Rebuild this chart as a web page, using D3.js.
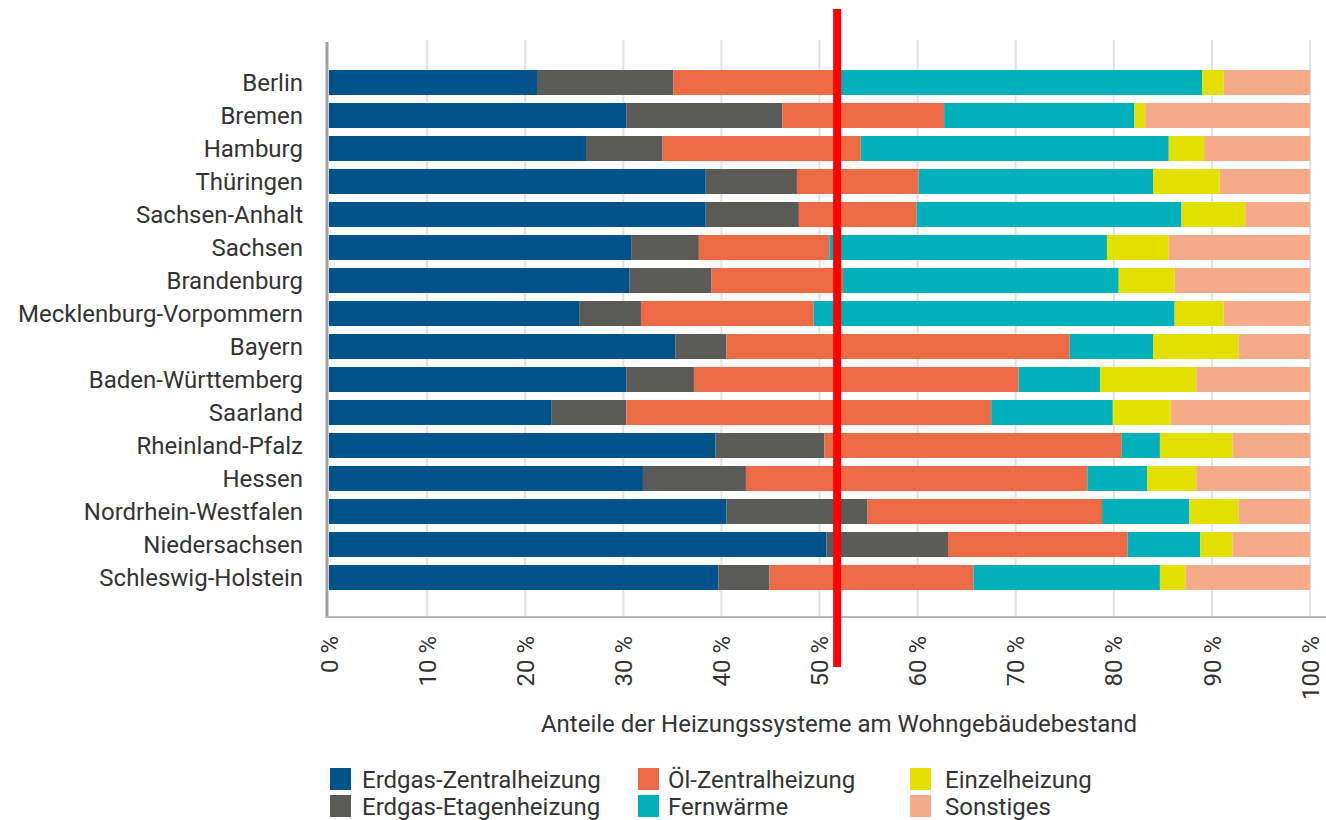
<!DOCTYPE html>
<html>
<head>
<meta charset="utf-8">
<script src="https://cdn.jsdelivr.net/npm/d3@7"></script>
<style>
	html, body { margin: 0; padding: 0; background: #fff; }
	svg { display: block; font-family: Roboto, 'Noto Sans', sans-serif; }
</style>
</head>
<body>
<svg id="chart" width="1326" height="820"></svg>
<script>
// Bundeslaender (von oben nach unten)
const laender = ['Berlin', 'Bremen', 'Hamburg', 'Thüringen', 'Sachsen-Anhalt', 'Sachsen', 'Brandenburg',
	'Mecklenburg-Vorpommern', 'Bayern', 'Baden-Württemberg', 'Saarland', 'Rheinland-Pfalz', 'Hessen',
	'Nordrhein-Westfalen', 'Niedersachsen', 'Schleswig-Holstein'];

// Anteile in %
const erdgasZentral = [21.2, 30.3, 26.2, 38.4, 38.4, 30.8, 30.6, 25.5, 35.3, 30.3, 22.7, 39.4, 32.0, 40.5, 50.7, 39.7];
const erdgasEtage   = [13.9, 15.9,  7.8,  9.3,  9.5,  6.9,  8.4,  6.3,  5.2,  6.9,  7.6, 11.1, 10.5, 14.4, 12.4,  5.2];
const oelZentral    = [16.9, 16.5, 20.2, 12.4, 12.0, 13.3, 13.4, 17.6, 35.0, 33.1, 37.2, 30.3, 34.8, 23.9, 18.3, 20.8];
const fernwaerme    = [37.0, 19.4, 31.4, 23.9, 27.0, 28.3, 28.1, 36.8,  8.5,  8.3, 12.4,  3.9,  6.1,  8.9,  7.4, 19.0];
const einzel        = [ 2.2,  1.1,  3.6,  6.8,  6.5,  6.3,  5.7,  5.0,  8.7,  9.8,  5.9,  7.4,  5.0,  5.0,  3.3,  2.6];
const sonstiges     = [ 8.8, 16.8, 10.8,  9.2,  6.6, 14.4, 13.8,  8.8,  7.3, 11.6, 14.2,  7.9, 11.6,  7.3,  7.9, 12.7];

const serienNamen = ['Erdgas-Zentralheizung', 'Erdgas-Etagenheizung', 'Öl-Zentralheizung', 'Fernwärme', 'Einzelheizung', 'Sonstiges'];
const serienWerte = [erdgasZentral, erdgasEtage, oelZentral, fernwaerme, einzel, sonstiges];
const farben = ['#00528a', '#5a5a57', '#ec6b45', '#00b1bc', '#e3df00', '#f5aa8a'];

const xTicks = [0, 10, 20, 30, 40, 50, 60, 70, 80, 90, 100];
const xTitel = 'Anteile der Heizungssysteme am Wohngebäudebestand';
const markierung = [51.8];	// rote Linie

const svg = d3.select('#chart');
const fs = '24px';	// Schriftgroesse

const x = d3.scaleLinear().domain([0, 100]).range([329, 1310]);
const y = d3.scaleBand().domain(laender).range([62, 598]).padding(0.2424);

// Tabelle fuer d3.stack
const tabelle = laender.map(function(l, i) {
	const row = { land: l };
	serienNamen.forEach(function(s, j) { row[s] = serienWerte[j][i]; });
	return row;
});
const stack = d3.stack().keys(serienNamen)(tabelle);

// Gitterlinien
svg.append('g')
	.selectAll('line')
	.data(xTicks.slice(1))
	.join('line')
	.attr('x1', d => x(d))
	.attr('x2', d => x(d))
	.attr('y1', 40)
	.attr('y2', 617)
	.style('stroke', '#e2e2e2')
	.style('stroke-width', 2);

// Balken
svg.append('g')
	.selectAll('g')
	.data(stack)
	.join('g')
	.style('fill', (d, i) => farben[i])
	.selectAll('rect')
	.data(d => d)
	.join('rect')
	.attr('x', d => x(d[0]))
	.attr('y', d => y(d.data.land))
	.attr('width', d => x(d[1]) - x(d[0]))
	.attr('height', y.bandwidth());

// Achsen
svg.append('line')
	.attr('x1', 327).attr('x2', 327)
	.attr('y1', 42).attr('y2', 618)
	.style('stroke', '#a0a0a0')
	.style('stroke-width', 3);
svg.append('line')
	.attr('x1', 326).attr('x2', 1326)
	.attr('y1', 617).attr('y2', 617)
	.style('stroke', '#b4b4b4')
	.style('stroke-width', 2);

// Kategorien
svg.append('g')
	.selectAll('text')
	.data(laender)
	.join('text')
	.attr('x', 303)
	.attr('y', d => y(d) + y.bandwidth() / 2)
	.attr('dy', '.36em')
	.attr('font-size', fs)
	.style('text-anchor', 'end')
	.style('fill', '#333')
	.text(d => d);

// Tick-Beschriftung (gedreht)
svg.append('g')
	.selectAll('text')
	.data(xTicks)
	.join('text')
	.attr('transform', d => 'translate(' + x(d) + ',636) rotate(-90)')
	.attr('dy', '.36em')
	.attr('font-size', fs)
	.style('text-anchor', 'end')
	.style('fill', '#333')
	.text(d => d + ' %');

// Achsentitel
svg.append('text')
	.attr('x', 839)
	.attr('y', 723)
	.attr('dy', '.36em')
	.attr('font-size', fs)
	.style('text-anchor', 'middle')
	.style('fill', '#333')
	.text(xTitel);

// Legende
const legX = [330, 638, 910];
const legTxtX = [362, 668, 945];
const legY = [779, 806];
const leg = svg.append('g')
	.selectAll('g')
	.data(serienNamen)
	.join('g')
	.attr('transform', (d, i) => 'translate(0,' + legY[i % 2] + ')');
leg.append('rect')
	.attr('x', (d, i) => legX[Math.floor(i / 2)])
	.attr('y', -11)
	.attr('width', 21)
	.attr('height', 22)
	.style('fill', (d, i) => farben[i]);
leg.append('text')
	.attr('x', (d, i) => legTxtX[Math.floor(i / 2)])
	.attr('dy', '.36em')
	.attr('font-size', fs)
	.style('fill', '#333')
	.text(d => d);

// rote Markierung
svg.append('g')
	.selectAll('rect')
	.data(markierung)
	.join('rect')
	.attr('x', d => x(d) - 4)
	.attr('y', 9)
	.attr('width', 8)
	.attr('height', 658)
	.style('fill', '#ff0000');
</script>
</body>
</html>
